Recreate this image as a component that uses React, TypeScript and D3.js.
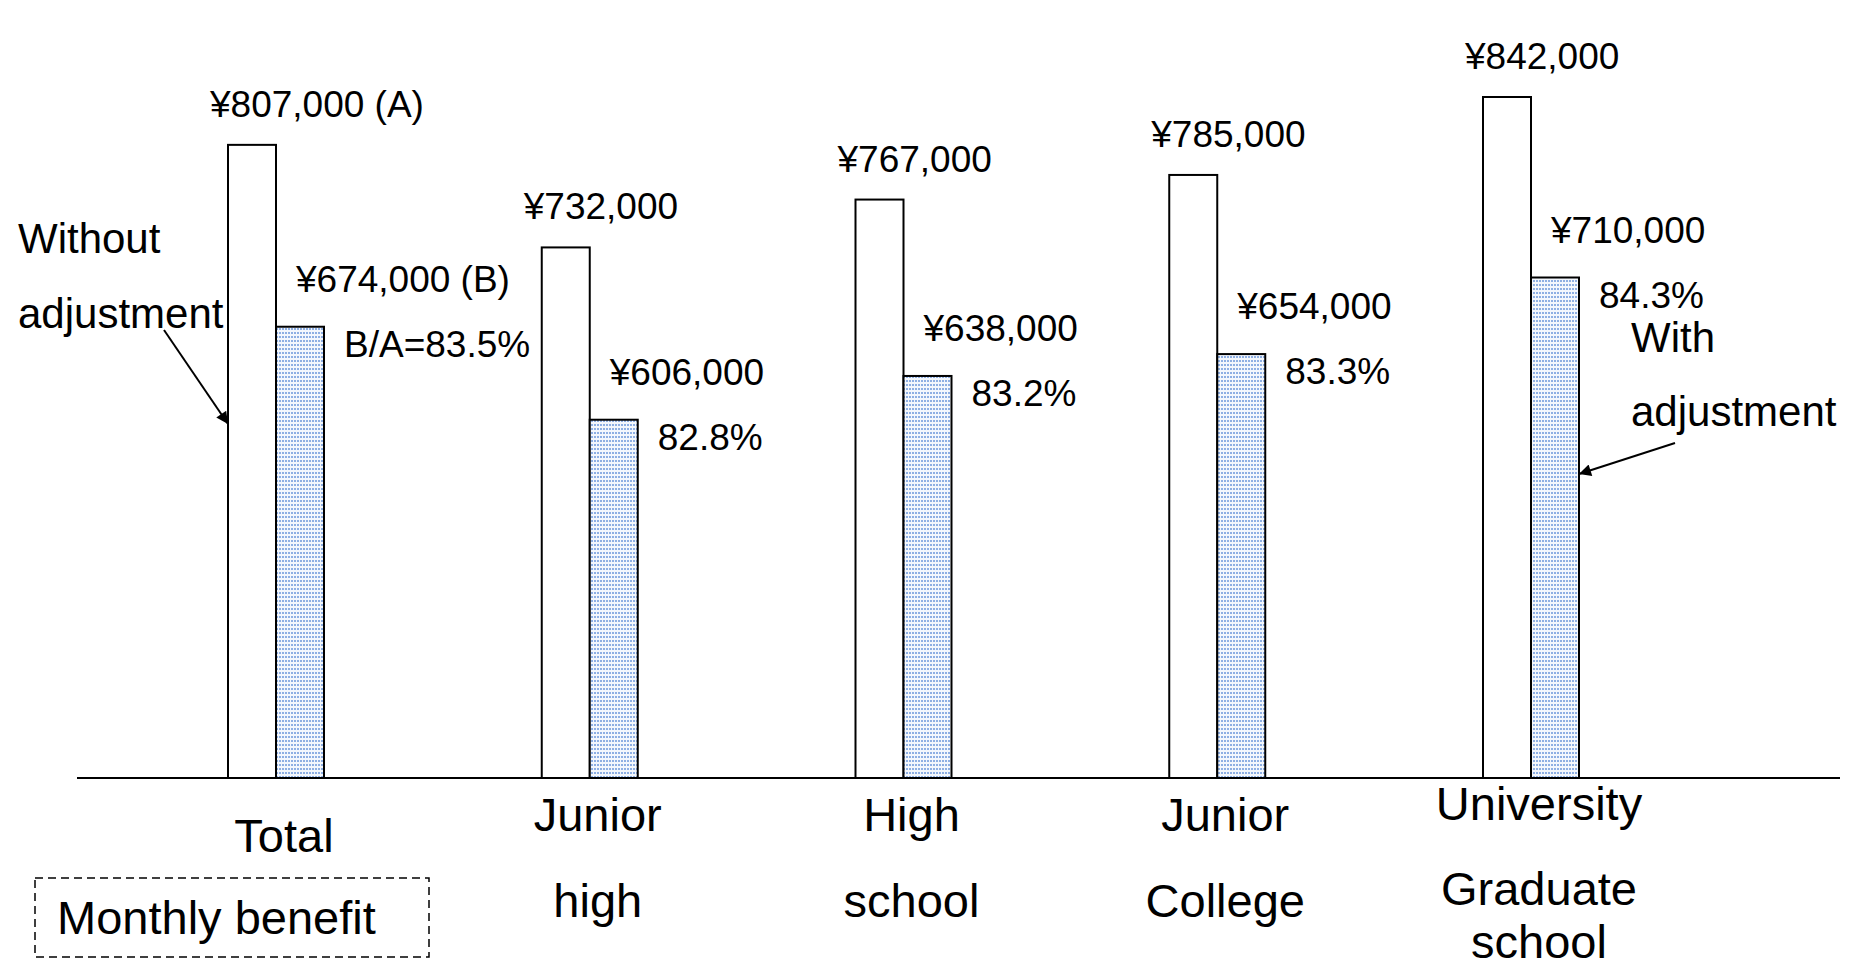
import React from "react";
import * as d3 from "d3";

// ---- data ----
const categories = ["Total", "Junior high", "High school", "Junior College", "University Graduate school"];
const categoryLines = [["Total"], ["Junior", "high"], ["High", "school"], ["Junior", "College"], ["University", "Graduate", "school"]];
const withoutAdjustment = [807000, 732000, 767000, 785000, 842000];
const withAdjustment = [674000, 606000, 638000, 654000, 710000];
const seriesKeys = ["without", "with"];
const labelSuffixA = [" (A)", "", "", "", ""];
const labelSuffixB = [" (B)", "", "", "", ""];
const ratioPrefix = ["B/A=", "", "", "", ""];

const W = 1872;
const H = 968;
const FONT = "'Liberation Sans', Arial, Helvetica, sans-serif";

export default function App() {
  const baseY = 778;
  const x = d3.scalePoint<string>().domain(categories).range([276, 1531]);
  const sub = d3.scaleBand<string>().domain(seriesKeys).range([-48, 48]);
  const y = d3.scaleLinear().domain([344000, 842000]).range([baseY, 97]);
  const fmt = d3.format(",");
  const pct = (a: number, b: number) => ((b / a) * 100).toFixed(1) + "%";

  const lineBaselines: Record<number, number[]> = { 1: [852], 2: [831, 917], 3: [820, 905, 958] };

  const c0 = x(categories[0])!;
  const cLast = x(categories[categories.length - 1])!;
  const arrow1Tip: [number, number] = [c0 + sub("without")!, 424];
  const arrow1Start: [number, number] = [arrow1Tip[0] - 64, arrow1Tip[1] - 94];
  const arrow2Tip: [number, number] = [cLast + sub("with")! + sub.bandwidth(), 474];
  const arrow2Start: [number, number] = [arrow2Tip[0] + 96, arrow2Tip[1] - 31];

  return (
    <svg
      width={W}
      height={H}
      style={{ position: "absolute", left: 0, top: 0, display: "block", background: "#fff" }}
      fontFamily={FONT}
    >
      <defs>
        <pattern id="dots" width="3" height="4" patternUnits="userSpaceOnUse">
          <rect width="3" height="4" fill="#f3f7fd" />
          <rect x="0" y="0" width="2" height="2" fill="#8eafe3" />
        </pattern>
        <marker id="arrowhead" viewBox="0 0 10 10" refX="10" refY="5" markerWidth="16" markerHeight="12" markerUnits="userSpaceOnUse" orient="auto">
          <path d="M0,0 L10,5 L0,10 z" fill="#000" />
        </marker>
      </defs>

      {/* bars */}
      {categories.map((c, i) => {
        const cx = x(c)!;
        const vals = [withoutAdjustment[i], withAdjustment[i]];
        return seriesKeys.map((k, j) => (
          <rect
            key={c + k}
            x={cx + sub(k)!}
            y={y(vals[j])}
            width={sub.bandwidth()}
            height={baseY - y(vals[j])}
            fill={j === 0 ? "#fff" : "url(#dots)"}
            stroke="#000"
            strokeWidth={2}
          />
        ));
      })}

      {/* baseline axis */}
      <line x1={77} x2={1840} y1={baseY} y2={baseY} stroke="#000" strokeWidth={2} />

      {/* value labels */}
      {categories.map((c, i) => {
        const cx = x(c)!;
        const a = withoutAdjustment[i];
        const b = withAdjustment[i];
        return (
          <g key={"lab" + c} fontSize={37} fill="#000">
            <text x={cx - 66} y={y(a) - 28}>{"¥" + fmt(a) + labelSuffixA[i]}</text>
            <text x={cx + 20} y={y(b) - 35}>{"¥" + fmt(b) + labelSuffixB[i]}</text>
            <text x={cx + 68} y={y(b) + 30}>{ratioPrefix[i] + pct(a, b)}</text>
          </g>
        );
      })}

      {/* category labels */}
      {categories.map((c, i) => {
        const lines = categoryLines[i];
        const bl = lineBaselines[lines.length];
        return (
          <text key={"cat" + c} x={x(c)! + 8} textAnchor="middle" fontSize={47} fill="#000">
            {lines.map((ln, j) => (
              <tspan key={j} x={x(c)! + 8} y={bl[j]}>{ln}</tspan>
            ))}
          </text>
        );
      })}

      {/* annotations */}
      <text fontSize={42} fill="#000">
        <tspan x={18} y={253}>Without</tspan>
        <tspan x={18} y={328}>adjustment</tspan>
      </text>
      <line x1={arrow1Start[0]} y1={arrow1Start[1]} x2={arrow1Tip[0]} y2={arrow1Tip[1]} stroke="#000" strokeWidth={2} markerEnd="url(#arrowhead)" />

      <text fontSize={42} fill="#000">
        <tspan x={cLast + 100} y={352}>With</tspan>
        <tspan x={cLast + 100} y={426}>adjustment</tspan>
      </text>
      <line x1={arrow2Start[0]} y1={arrow2Start[1]} x2={arrow2Tip[0]} y2={arrow2Tip[1]} stroke="#000" strokeWidth={2} markerEnd="url(#arrowhead)" />

      {/* legend box */}
      <rect x={35} y={878} width={394} height={79} fill="none" stroke="#000" strokeWidth={1.5} strokeDasharray="8 5" />
      <text x={57} y={934} fontSize={47} fill="#000">Monthly benefit</text>
    </svg>
  );
}
